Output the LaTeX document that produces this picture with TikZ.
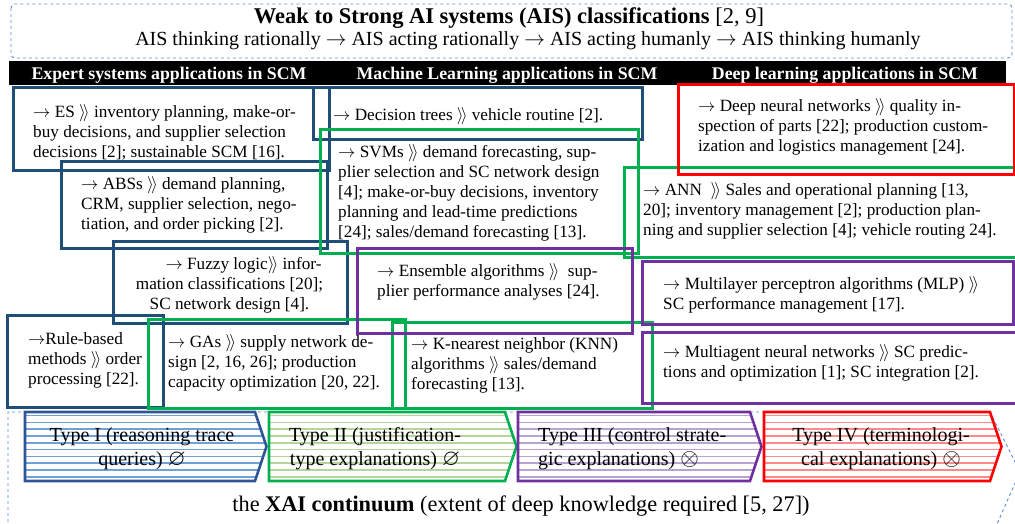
\documentclass[tikz,border=0pt]{standalone}
\usepackage{fontspec}
\setmainfont{Liberation Serif}
\usepackage{amssymb}
\definecolor{cblue}{HTML}{1F4E79}
\definecolor{cgreen}{HTML}{00B050}
\definecolor{cred}{HTML}{FF0000}
\definecolor{cpurple}{HTML}{7030A0}
\definecolor{cdash}{HTML}{5B8FD0}
\definecolor{sblue}{HTML}{2F5597}
\definecolor{sbluel}{HTML}{6FA0D8}
\definecolor{sgreenl}{HTML}{B5D59A}
\definecolor{spurplel}{HTML}{B8A4D4}
\definecolor{sredl}{HTML}{FF8A8A}
\newcommand{\rr}{$\rangle\!\rangle$}
\newcommand{\ar}{$\rightarrow$}
\newcommand{\emptysym}{\scalebox{1.15}{$\varnothing$}}
\newcommand{\otsym}{\scalebox{1.15}{$\otimes$}}
\begin{document}
\begin{tikzpicture}[x=1pt,y=-1pt,
  boxline/.style={line width=3pt},
  txt/.style={font=\fontsize{17.2}{20}\selectfont, align=left, inner sep=0pt, anchor=north west},
  hdr/.style={font=\fontsize{17.8}{20}\selectfont\bfseries, text=white, inner sep=0pt, anchor=base},
  chevtxt/.style={font=\fontsize{20}{24}\selectfont, align=center, inner sep=0pt, anchor=north},
  dashline/.style={cdash, dashed, line width=0.9pt}
]
\useasboundingbox (0,0) rectangle (1015,524);

% top dashed frame
\draw[dashline, rounded corners=4pt] (11,4) rectangle (1012,58);
\node[anchor=base, inner sep=0pt, font=\fontsize{22.5}{26}\selectfont] (title) at (509,24)
  {\textbf{Weak to Strong AI systems (AIS) classifications} [2, 9]};
\node[anchor=base, inner sep=0pt, font=\fontsize{20}{23}\selectfont] (subtitle) at (528,46)
  {AIS thinking rationally \ar{} AIS acting rationally \ar{} AIS acting humanly \ar{} AIS thinking humanly};

% header bar
\fill[black] (9,61) rectangle (1006,85);
\node[hdr] (h1) at (169,80) {Expert systems applications in SCM};
\node[hdr] (h2) at (507,80) {Machine Learning applications in SCM};
\node[hdr] (h3) at (845,80) {Deep learning applications in SCM};

% boxes
\draw[boxline, cblue] (13,88) rectangle (329,171);
\draw[boxline, cblue] (313,88) rectangle (642,140);
\draw[boxline, cblue] (61,162) rectangle (327,248);
\draw[boxline, cblue] (113,241) rectangle (347,323);
\draw[boxline, cblue] (7,315) rectangle (163,407);
\draw[boxline, cgreen] (320,130) rectangle (638,253);
\draw[boxline, cgreen] (624,168) rectangle (1022,257);
\draw[boxline, cgreen] (148,319) rectangle (405,408);
\draw[boxline, cgreen] (392,322) rectangle (652,408);
\draw[boxline, cred] (678,85) rectangle (1014,175);
\draw[boxline, cpurple] (357,248) rectangle (632,333);
\draw[boxline, cpurple] (642,261) rectangle (1013,324);
\draw[boxline, cpurple] (642,332) rectangle (1022,403);

% texts
\node[txt] (tES) at (33,103) {\strut\ar{} ES \rr{} inventory planning, make-or-\\buy decisions, and supplier selection\\decisions [2]; sustainable SCM [16].};
\node[txt] (tDT) at (333,106) {\strut\ar{} Decision trees \rr{} vehicle routine [2].};
\node[txt] (tSVM) at (338,143) {\strut\ar{} SVMs \rr{} demand forecasting, sup-\\plier selection and SC network design\\{}[4]; make-or-buy decisions, inventory\\planning and lead-time predictions\\{}[24]; sales/demand forecasting [13].};
\node[txt] (tDNN) at (698,97) {\strut\ar{} Deep neural networks \rr{} quality in-\\spection of parts [22]; production custom-\\ization and logistics management [24].};
\node[txt] (tABS) at (81,175) {\strut\ar{} ABSs \rr{} demand planning,\\CRM, supplier selection, nego-\\tiation, and order picking [2].};
\node[txt] (tANN) at (643,181) {\strut\ar{} ANN~ \rr{} Sales and operational planning [13,\\20]; inventory management [2]; production plan-\\ning and supplier selection [4]; vehicle routing 24].};
\node[txt, align=center, anchor=north] (tFZ) at (229.5,255) {\strut\hspace*{28pt}\ar{} Fuzzy logic\rr{} infor-\\mation classifications [20];\\SC network design [4].};
\node[txt] (tENS) at (377,262) {\strut\ar{} Ensemble algorithms \rr{}~ sup-\\plier performance analyses [24].};
\node[txt] (tMLP) at (663,275) {\strut\ar{} Multilayer perceptron algorithms (MLP) \rr{}\\SC performance management [17].};
\node[txt] (tRB) at (28,330) {\strut\ar{}Rule-based\\methods \rr{} order\\processing [22].};
\node[txt] (tGA) at (168,333) {\strut\ar{} GAs \rr{} supply network de-\\sign [2, 16, 26]; production\\capacity optimization [20, 22].};
\node[txt] (tKNN) at (411,335) {\strut\ar{} K-nearest neighbor (KNN)\\algorithms \rr{} sales/demand\\forecasting [13].};
\node[txt] (tMA) at (663,343) {\strut\ar{} Multiagent neural networks \rr{} SC predic-\\tions and optimization [1]; SC integration [2].};

% bottom dashed frame
\draw[dashline] (8,540) -- (8,412) -- (990,412) -- (1020,472) -- (990,540);

% chevrons
\foreach \l/\r/\sc/\fc in {25/255/sblue/sbluel, 269/505/cgreen/sgreenl, 518/750/cpurple/spurplel, 764/990/cred/sredl}{
  \begin{scope}
    \clip (\l,412) -- (\r,412) -- ({\r+11.5},446.5) -- (\r,481) -- (\l,481) -- cycle;
    \foreach \yy in {415.5,422.3,...,480}
      \draw[\fc, line width=1.6pt] (\l,\yy) -- ({\r+12},\yy);
  \end{scope}
  \draw[\sc, line width=2.6pt, line join=miter] (\l,412) -- (\r,412) -- ({\r+11.5},446.5) -- (\r,481) -- (\l,481) -- cycle;
}
\node[chevtxt] (c1) at (142,424) {\strut Type I (reasoning trace\\queries) \emptysym};
\node[chevtxt] (c2) at (375,424) {\strut Type II (justification-\\type explanations) \emptysym};
\node[chevtxt, align=left, anchor=north west] (c3) at (538,424) {\strut Type III (control strate-\\gic explanations) \otsym};
\node[chevtxt] (c4) at (881,424) {\strut Type IV (terminologi-\\cal explanations) \otsym};

\node[anchor=base, inner sep=0pt, font=\fontsize{22.3}{25}\selectfont] (xai) at (521,511)
  {the \textbf{XAI continuum} (extent of deep knowledge required [5, 27])};
\end{tikzpicture}
\end{document}
